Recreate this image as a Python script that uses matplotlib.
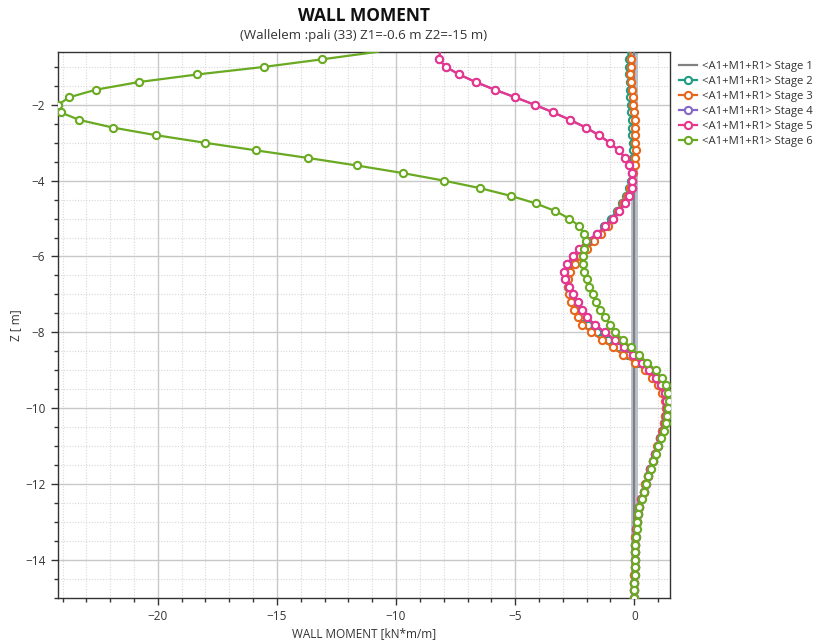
import matplotlib
matplotlib.use("Agg")
import matplotlib.pyplot as plt
from matplotlib.ticker import MultipleLocator

plt.rcParams['font.family'] = ['Open Sans', 'DejaVu Sans']

z = [-0.6, -0.8, -1.0, -1.2, -1.4, -1.6, -1.8, -2.0, -2.2, -2.4,
     -2.6, -2.8, -3.0, -3.2, -3.4, -3.6, -3.8, -4.0, -4.2, -4.4,
     -4.6, -4.8, -5.0, -5.2, -5.4, -5.6, -5.8, -6.0, -6.2, -6.4,
     -6.6, -6.8, -7.0, -7.2, -7.4, -7.6, -7.8, -8.0, -8.2, -8.4,
     -8.6, -8.8, -9.0, -9.2, -9.4, -9.6, -9.8, -10.0, -10.2, -10.4,
     -10.6, -10.8, -11.0, -11.2, -11.4, -11.6, -11.8, -12.0, -12.2, -12.4,
     -12.6, -12.8, -13.0, -13.2, -13.4, -13.6, -13.8, -14.0, -14.2, -14.4,
     -14.6, -14.8, -15.0]

stage1 = [0.0, 0.0, 0.0, 0.0, 0.0, 0.0, 0.0, 0.0, 0.0, 0.0,
          0.0, 0.0, 0.0, 0.0, 0.0, 0.0, 0.0, 0.0, 0.0, 0.0,
          0.0, 0.0, 0.0, 0.0, 0.0, 0.0, 0.0, 0.0, 0.0, 0.0,
          0.0, 0.0, 0.0, 0.0, 0.0, 0.0, 0.0, 0.0, 0.0, 0.0,
          0.0, 0.0, 0.0, 0.0, 0.0, 0.0, 0.0, 0.0, 0.0, 0.0,
          0.0, 0.0, 0.0, 0.0, 0.0, 0.0, 0.0, 0.0, 0.0, 0.0,
          0.0, 0.0, 0.0, 0.0, 0.0, 0.0, 0.0, 0.0, 0.0, 0.0,
          0.0, 0.0, 0.0]

stage2 = [-0.25, -0.24, -0.23, -0.22, -0.2, -0.18, -0.16, -0.14, -0.12, -0.1,
          -0.09, -0.08, -0.07, -0.06, -0.06, -0.07, -0.1, -0.15, -0.24, -0.36,
          -0.52, -0.74, -0.98, -1.25, -1.55, -1.86, -2.18, -2.42, -2.62, -2.76,
          -2.82, -2.78, -2.66, -2.52, -2.38, -2.2, -1.95, -1.55, -1.1, -0.68,
          -0.25, 0.18, 0.55, 0.84, 1.08, 1.24, 1.32, 1.34, 1.31, 1.26,
          1.18, 1.07, 0.98, 0.88, 0.78, 0.67, 0.57, 0.47, 0.39, 0.29,
          0.2, 0.15, 0.11, 0.08, 0.05, 0.03, 0.02, 0.01, 0.01, 0.0,
          0.0, 0.0, 0.0]

stage3 = [-0.16, -0.15, -0.15, -0.16, -0.13, -0.1, -0.07, -0.05, -0.02, 0.02,
          0.04, 0.05, 0.05, 0.07, 0.05, 0.02, -0.04, -0.1, -0.2, -0.32,
          -0.48, -0.68, -0.88, -1.1, -1.38, -1.68, -2.0, -2.28, -2.5, -2.68,
          -2.78, -2.8, -2.74, -2.64, -2.52, -2.38, -2.2, -1.8, -1.35, -0.9,
          -0.46, 0.03, 0.45, 0.75, 1.0, 1.18, 1.28, 1.32, 1.3, 1.24,
          1.16, 1.06, 0.97, 0.87, 0.77, 0.67, 0.57, 0.47, 0.39, 0.29,
          0.2, 0.15, 0.11, 0.08, 0.05, 0.03, 0.02, 0.01, 0.01, 0.0,
          0.0, 0.0, 0.0]

stage4 = [-8.15, -8.2, -7.91, -7.35, -6.66, -5.86, -5.01, -4.18, -3.4, -2.69,
          -2.03, -1.49, -1.03, -0.66, -0.38, -0.21, -0.08, -0.08, -0.11, -0.22,
          -0.38, -0.63, -0.9, -1.23, -1.55, -2.0, -2.31, -2.57, -2.84, -2.94,
          -2.89, -2.73, -2.57, -2.37, -2.21, -2.0, -1.65, -1.23, -0.81, -0.43,
          -0.04, 0.31, 0.62, 0.9, 1.12, 1.27, 1.35, 1.36, 1.33, 1.28,
          1.2, 1.08, 0.99, 0.89, 0.79, 0.68, 0.58, 0.48, 0.4, 0.3,
          0.21, 0.16, 0.12, 0.09, 0.06, 0.04, 0.03, 0.02, 0.01, 0.01,
          0.0, 0.0, 0.0]

stage5 = [-8.15, -8.2, -7.91, -7.35, -6.66, -5.86, -5.01, -4.18, -3.4, -2.69,
          -2.03, -1.49, -1.03, -0.66, -0.38, -0.21, -0.08, -0.08, -0.11, -0.22,
          -0.38, -0.63, -0.9, -1.23, -1.55, -2.0, -2.31, -2.57, -2.84, -2.94,
          -2.89, -2.73, -2.57, -2.37, -2.21, -2.0, -1.65, -1.23, -0.81, -0.43,
          -0.04, 0.31, 0.62, 0.9, 1.12, 1.27, 1.35, 1.36, 1.33, 1.28,
          1.2, 1.08, 0.99, 0.89, 0.79, 0.68, 0.58, 0.48, 0.4, 0.3,
          0.21, 0.16, 0.12, 0.09, 0.06, 0.04, 0.03, 0.02, 0.01, 0.01,
          0.0, 0.0, 0.0]

stage6 = [-10.75, -13.1, -15.54, -18.35, -20.8, -22.59, -23.71, -24.2, -24.08, -23.29,
          -21.89, -20.09, -18.03, -15.89, -13.71, -11.65, -9.72, -7.99, -6.46, -5.19,
          -4.14, -3.32, -2.73, -2.31, -2.1, -2.04, -2.1, -2.15, -2.15, -2.1,
          -2.0, -1.89, -1.75, -1.62, -1.44, -1.23, -1.02, -0.81, -0.48, -0.15,
          0.2, 0.55, 0.9, 1.15, 1.33, 1.43, 1.47, 1.43, 1.39, 1.33,
          1.25, 1.11, 1.01, 0.91, 0.8, 0.69, 0.59, 0.49, 0.41, 0.31,
          0.21, 0.17, 0.13, 0.1, 0.07, 0.04, 0.03, 0.02, 0.01, 0.01,
          0.0, 0.0, 0.0]

labels = ["<A1+M1+R1> Stage 1", "<A1+M1+R1> Stage 2", "<A1+M1+R1> Stage 3",
          "<A1+M1+R1> Stage 4", "<A1+M1+R1> Stage 5", "<A1+M1+R1> Stage 6"]
colors = ["#808080", "#1f9c84", "#e8661a", "#8468c8", "#e8368e", "#6aaa22"]

title = "WALL MOMENT"
subtitle = "(Wallelem :pali (33) Z1=-0.6 m Z2=-15 m)"
xlabel = "WALL MOMENT [kN*m/m]"
ylabel = "Z [ m]"

fig = plt.figure(figsize=(8.35, 6.41), dpi=100)
ax = fig.add_axes([0.0692, 0.0675, 0.7332, 0.8518])

# stage 1: plain line with light halo
ax.plot(stage1, z, color="#b8c0cc", lw=5, zorder=2, solid_capstyle='butt')
ax.plot(stage1, z, color=colors[0], lw=1.6, zorder=3, label=labels[0])

series = [stage2, stage3, stage4, stage5, stage6]
marks = list(range(1, len(z)))
for i, s in enumerate(series):
    c = colors[i + 1]
    ax.plot(s, z, color=c, lw=1.6, marker='o', markersize=5.2,
            markerfacecolor='white', markeredgecolor=c, markeredgewidth=1.5,
            markevery=marks, zorder=4 + i, label=labels[i + 1])

allx = stage1 + stage2 + stage3 + stage4 + stage5 + stage6
ax.set_xlim(min(allx), max(allx) + 0.03)
ax.set_ylim(-15, -0.6)

ax.xaxis.set_major_locator(MultipleLocator(5))
ax.xaxis.set_minor_locator(MultipleLocator(1))
ax.yaxis.set_major_locator(MultipleLocator(2))
ax.yaxis.set_minor_locator(MultipleLocator(0.5))

ax.grid(which='major', color='#c8c8c8', lw=1.0, zorder=0)
ax.grid(which='minor', color='#d8d8d8', lw=0.8, ls=(0, (1, 1.5)), zorder=0)
ax.set_axisbelow(True)

ax.tick_params(which='major', direction='out', length=5, width=1, color='#333333',
               labelsize=8.5, labelcolor='#333333', pad=4)
ax.tick_params(which='minor', direction='out', length=3, width=1, color='#333333')
for sp in ax.spines.values():
    sp.set_color('#333333')
    sp.set_linewidth(1.0)

ax.set_xlabel(xlabel, fontsize=8.5, color='#333333', labelpad=3)
ax.set_ylabel(ylabel, fontsize=8.5, color='#333333')
ax.yaxis.set_label_coords(-0.058, 0.5)

fig.text(0.436, 0.975, title, ha='center', va='center', fontsize=12.5, fontweight='bold', color='#111111')
fig.text(0.436, 0.944, subtitle, ha='center', va='center', fontsize=9.5, color='#333333')

handles, lbls = ax.get_legend_handles_labels()
leg = fig.legend(handles, lbls, loc='upper left', bbox_to_anchor=(0.808, 0.912),
                 frameon=False, fontsize=8.1, handlelength=1.6, handletextpad=0.4,
                 labelspacing=0.36, borderaxespad=0)
for t in leg.get_texts():
    t.set_color('#333333')

fig.savefig("out.png", dpi=100)
